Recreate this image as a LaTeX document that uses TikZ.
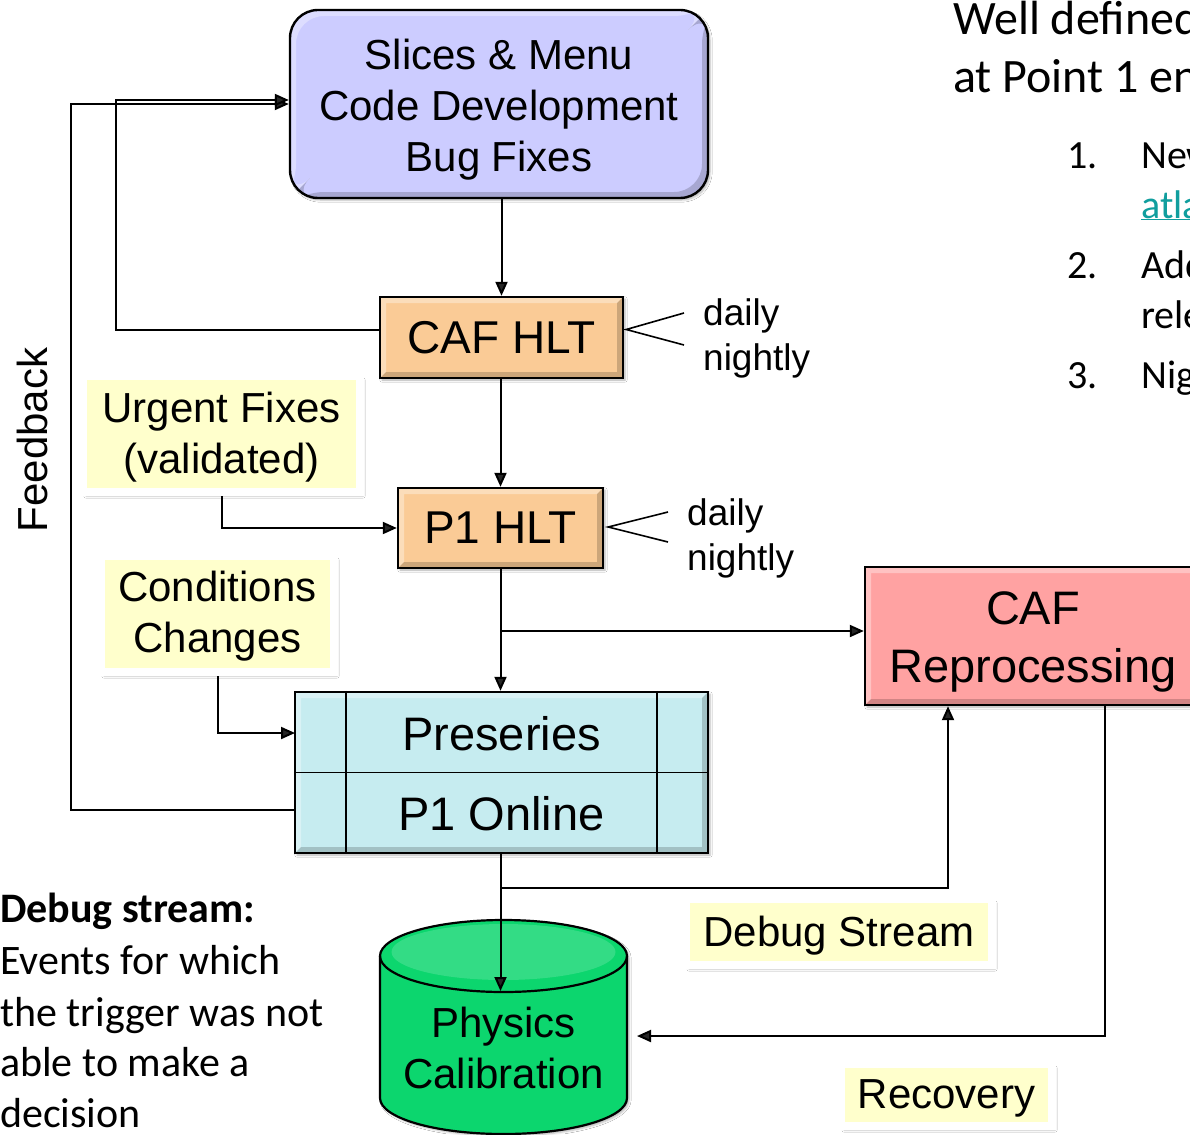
\documentclass[tikz,border=0pt]{standalone}
\usepackage{fontspec}
\setmainfont{Liberation Sans}
\newfontfamily\calib{Carlito}
\usetikzlibrary{arrows.meta,shadows.blur,calc}

\definecolor{lav}{RGB}{204,204,255}
\definecolor{peach}{RGB}{250,203,150}
\definecolor{icecyan}{RGB}{198,236,240}
\definecolor{rose}{RGB}{255,162,162}
\definecolor{dbgreen}{RGB}{12,214,110}
\definecolor{ylw}{RGB}{255,255,204}
\definecolor{linkteal}{RGB}{16,158,158}

\begin{document}
\begin{tikzpicture}[x=1pt,y=-1pt,
  conn/.style={line width=2pt},
  arr/.style={conn,-{Triangle[length=14pt,width=12pt]}},
  bevel/.style={path picture={
    \fill[white,opacity=.35] (path picture bounding box.north west) -- (path picture bounding box.north east)
      -- ([xshift=-6pt,yshift=-6pt]path picture bounding box.north east) -- ([xshift=6pt,yshift=-6pt]path picture bounding box.north west)
      -- ([xshift=6pt,yshift=6pt]path picture bounding box.south west) -- (path picture bounding box.south west) -- cycle;
    \fill[black,opacity=.18] (path picture bounding box.south west) -- (path picture bounding box.south east)
      -- (path picture bounding box.north east) -- ([xshift=-6pt,yshift=-6pt]path picture bounding box.north east)
      -- ([xshift=-6pt,yshift=6pt]path picture bounding box.south east) -- ([xshift=6pt,yshift=6pt]path picture bounding box.south west) -- cycle;
  }},
  box/.style={draw=black,line width=2.4pt,inner sep=0pt,align=center,bevel,
    blur shadow={shadow xshift=2pt,shadow yshift=-2pt,shadow opacity=30,shadow blur steps=5}},
  boxtext/.style={inner sep=0pt,align=center},
  lbl/.style={fill=ylw,draw=white,line width=8pt,inner sep=0pt,
    blur shadow={shadow xshift=3pt,shadow yshift=-4pt,shadow opacity=22,shadow blur steps=6}},
  lbltext/.style={inner sep=0pt,align=center,font=\fontsize{42}{51}\selectfont},
  note/.style={anchor=west,inner sep=0pt,align=left,font=\fontsize{37}{45}\selectfont},
  side/.style={anchor=base west,inner sep=0pt,font=\calib\fontsize{42}{51}\selectfont},
  head/.style={anchor=base west,inner sep=0pt,font=\calib\fontsize{48}{58}\selectfont},
  item/.style={anchor=base west,inner sep=0pt,font=\calib\fontsize{40}{48}\selectfont}
]
\path[use as bounding box,clip] (0,0) rectangle (1190,1134);
\fill[white] (0,0) rectangle (1190,1134);

% ---- main boxes ----
\node[box,fill=lav,rounded corners=28pt,minimum width=418,minimum height=188] (top) at (499,104) {};
\node[boxtext,font=\fontsize{42}{51}\selectfont] (topT) at (499,110) {Slices \& Menu\\Code Development\\Bug Fixes};
\node[box,fill=peach,minimum width=243,minimum height=81,
  font=\fontsize{46}{55}\selectfont] (caf) at (501.5,337.5) {CAF HLT};
\node[box,fill=peach,minimum width=205,minimum height=80,
  font=\fontsize{46}{55}\selectfont] (p1) at (500.5,528) {P1 HLT};
\node[box,fill=icecyan,minimum width=413,minimum height=161] (pre) at (501.5,772.5) {};
\draw[line width=1.8pt] ($(pre.north west)+(52,0)$) -- ($(pre.south west)+(52,0)$);
\draw[line width=1.8pt] ($(pre.north east)+(-52,0)$) -- ($(pre.south east)+(-52,0)$);
\draw[line width=1.8pt] (pre.west) -- (pre.east);
\node[boxtext,font=\fontsize{47}{56}\selectfont] (preA) at (501.5,734) {Preseries};
\node[boxtext,font=\fontsize{47}{56}\selectfont] (preB) at (501.5,814) {P1 Online};
\node[box,fill=rose,minimum width=336,minimum height=138] (rep) at (1033,636) {};
\node[boxtext,font=\fontsize{47}{58}\selectfont] (repT) at (1033,641.5) {CAF\\Reprocessing};

% ---- storage cylinder ----
\fill[dbgreen,blur shadow={shadow xshift=2pt,shadow yshift=-2pt,shadow opacity=30}]
  (380,956) -- (380,1098) arc[start angle=180,end angle=0,x radius=123.5,y radius=36]
  -- (627,956) arc[start angle=0,end angle=-180,x radius=123.5,y radius=36] -- cycle;
\fill[white,opacity=.16] (503.5,952) ellipse[x radius=112,y radius=28];
\draw[line width=2.2pt] (380,956) -- (380,1098) arc[start angle=180,end angle=0,x radius=123.5,y radius=36] -- (627,956);
\draw[line width=2.2pt] (503.5,956) ellipse[x radius=123.5,y radius=36];
\node[align=center,inner sep=0pt,font=\fontsize{42}{51}\selectfont] (db) at (503.5,1048) {Physics\\Calibration};
\coordinate (dbtop) at (500.5,991);
\coordinate (dbin) at (637,1036);

% ---- label boxes ----
\node[lbl,minimum width=277,minimum height=116] (urg) at (221.5,434) {};
\node[lbltext] (urgT) at (221.5,437.5) {Urgent Fixes\\(validated)};
\node[lbl,minimum width=233,minimum height=116] (cond) at (217.5,614) {};
\node[lbltext] (condT) at (217.5,616.5) {Conditions\\Changes};
\node[lbl,minimum width=306,minimum height=66] (dbs) at (839,932) {};
\node[lbltext] (dbsT) at (839,935.5) {Debug Stream};
\node[lbl,minimum width=211,minimum height=62] (rec) at (946.5,1095) {};
\node[lbltext] (recT) at (946.5,1098.5) {Recovery};

% ---- main flow ----
\draw[arr] (top.south -| caf.north) -- (caf.north);
\draw[arr] (caf.south -| p1.north) -- (p1.north);
\draw[arr] (p1.south) -- (p1.south |- pre.north);
\coordinate (br1) at (500.5,631);
\draw[arr] (br1) -- (br1 -| rep.west);
\draw[arr] (pre.south -| dbtop) -- (dbtop);
\coordinate (br2) at (500.5,888);
\coordinate (br2c) at (948,888);
\draw[arr] (br2) -- (br2c) -- (br2c |- rep.south);
\coordinate (rc) at (1105,1036);
\draw[arr] (rc |- rep.south) -- (rc) -- (dbin);

% ---- inputs ----
\draw[arr] (urg.south) |- (p1.west);
\coordinate (prein) at (295,733);
\draw[arr] (cond.south) |- (prein);

% ---- feedback loops ----
\coordinate (fbo) at (71,104);
\coordinate (preout) at (295,810);
\draw[arr] (preout) -| (fbo) -- (top.west);
\coordinate (cafout) at ($(caf.west)+(0,-7.5)$);
\coordinate (fbi) at (116,100);
\draw[arr] (cafout) -| (fbi) -- (fbi -| top.west);
\node[rotate=90,inner sep=0pt,font=\fontsize{42}{50}\selectfont] (fb) at (32,440) {Feedback};

% ---- release cadence ----
\coordinate (cv) at ($(caf.east)+(2,-8)$);
\coordinate (ca) at (684,313);
\coordinate (cb) at (684,345);
\draw[line width=1.6pt] (ca) -- (cv) -- (cb);
\node[note] (cn) at (703,338.5) {daily\\nightly};
\coordinate (pv) at ($(p1.east)+(4,-1)$);
\coordinate (pa) at (668,512);
\coordinate (pb) at (668,542);
\draw[line width=1.6pt] (pa) -- (pv) -- (pb);
\node[note] (pn) at (687,538) {daily\\nightly};

% ---- debug stream note ----
\node[side,font=\calib\bfseries\fontsize{42}{51}\selectfont] (s0) at (0,922) {Debug stream:};
\node[side] (s1) at (0,974) {Events for which};
\node[side] (s2) at (0,1026) {the trigger was not};
\node[side] (s3) at (0,1076) {able to make a};
\node[side] (s4) at (0,1127) {decision};

% ---- text column ----
\node[head] (h1) at (953,35) {Well defined};
\node[head] (h2) at (953,93) {at Point 1 en};
\node[item] (n1) at (1067,168) {1.};
\node[item] (t1) at (1141,168) {New};
\node[item,text=linkteal] (t1b) at (1141,218) {\underline{atlas}};
\node[item] (n2) at (1067,278) {2.};
\node[item] (t2) at (1141,278) {Add};
\node[item] (t2b) at (1141,328) {release};
\node[item] (n3) at (1067,388) {3.};
\node[item] (t3) at (1141,388) {Night};
\end{tikzpicture}
\end{document}
